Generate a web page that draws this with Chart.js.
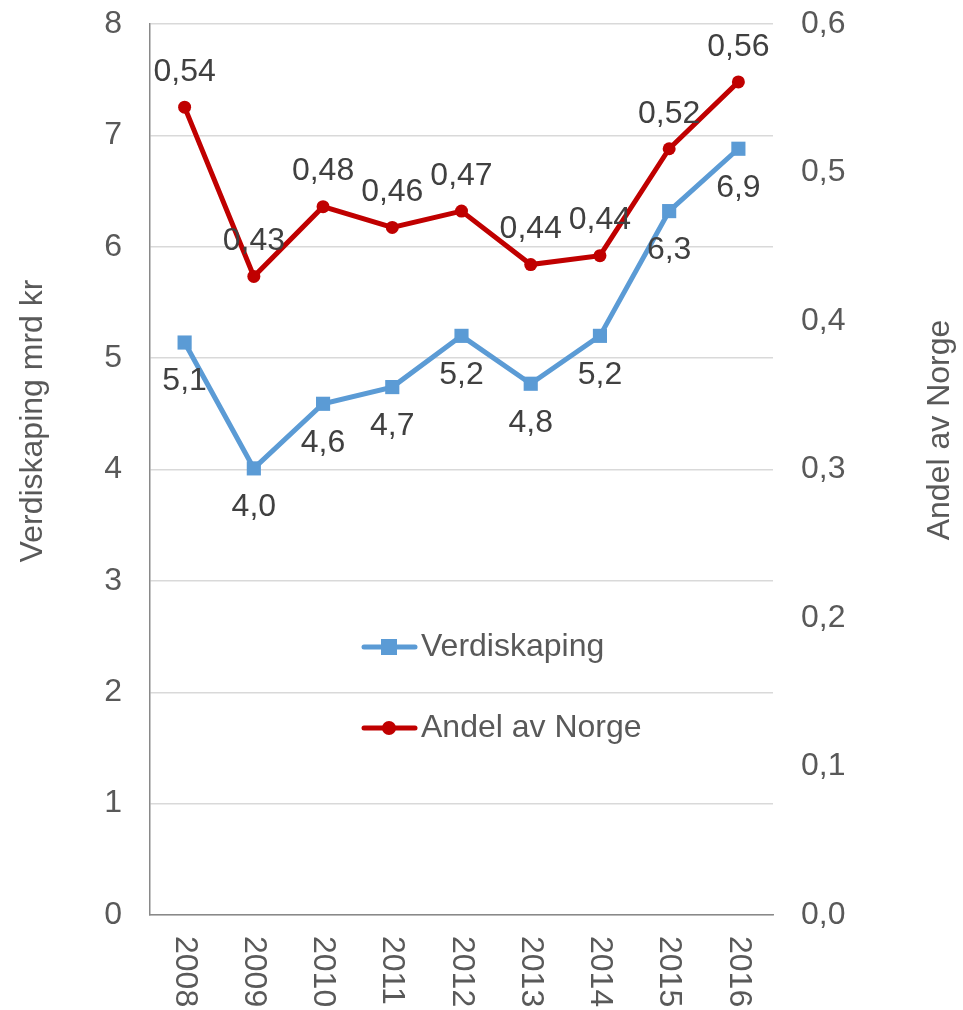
<!DOCTYPE html>
<html>
<head>
<meta charset="utf-8">
<script src="https://cdn.jsdelivr.net/npm/chart.js@4.4.1/dist/chart.umd.min.js"></script>
<style>
  body { margin: 0; background: #fff; }
  #wrap { width: 963px; height: 1010px; }
</style>
</head>
<body>
<div id="wrap"><canvas id="chart" width="963" height="1010"></canvas></div>
<script>
const years = ["2008", "2009", "2010", "2011", "2012", "2013", "2014", "2015", "2016"];
const verdiskaping = [5.14, 4.01, 4.59, 4.74, 5.2, 4.77, 5.2, 6.32, 6.88];
const andelNorge = [0.544, 0.43, 0.477, 0.463, 0.474, 0.438, 0.444, 0.516, 0.561];
const leftTicks = [0, 1, 2, 3, 4, 5, 6, 7, 8];
const rightTicks = [0, 0.1, 0.2, 0.3, 0.4, 0.5, 0.6];

const FONT = "'Liberation Sans', Arial, sans-serif";
const SIZE = 32;
const GREY = "#595959";
const DARK = "#404040";
const BLUE = "#5b9bd5";
const RED = "#c00000";

const comma = (v, d) => v.toFixed(d).replace(".", ",");

// labels, titles and legend drawn by hand
const extras = {
  id: "extras",
  afterDatasetsDraw: (chart) => {
    const { ctx } = chart;
    ctx.save();
    ctx.font = SIZE + "px " + FONT;
    ctx.fillStyle = DARK;
    ctx.textAlign = "center";
    ctx.textBaseline = "middle";
    chart.data.datasets.forEach((ds, i) => {
      const meta = chart.getDatasetMeta(i);
      meta.data.forEach((pt, j) => {
        const dy = i === 0 ? 39 : -35;
        ctx.fillText(comma(ds.data[j], i === 0 ? 1 : 2), pt.x, pt.y + dy);
      });
    });
    ctx.restore();
  },
  afterDraw: (chart) => {
    const { ctx, scales } = chart;
    ctx.save();
    ctx.font = SIZE + "px " + FONT;
    ctx.fillStyle = GREY;
    ctx.textBaseline = "middle";

    // year labels, turned clockwise
    years.forEach((y, i) => {
      ctx.save();
      ctx.translate(scales.x.getPixelForValue(i), chart.chartArea.bottom + 21);
      ctx.rotate(Math.PI / 2);
      ctx.textAlign = "left";
      ctx.fillText(y, 0, 0);
      ctx.restore();
    });

    // axis titles
    ctx.textAlign = "center";
    ctx.save();
    ctx.translate(33, 421);
    ctx.rotate(-Math.PI / 2);
    ctx.fillText("Verdiskaping mrd kr", 0, 0);
    ctx.restore();
    ctx.save();
    ctx.translate(940, 430);
    ctx.rotate(-Math.PI / 2);
    ctx.fillText("Andel av Norge", 0, 0);
    ctx.restore();

    // legend
    const rows = [
      { y: 647, ds: chart.data.datasets[0] },
      { y: 728, ds: chart.data.datasets[1] },
    ];
    rows.forEach((r) => {
      ctx.strokeStyle = r.ds.borderColor;
      ctx.lineWidth = 5;
      ctx.lineCap = "round";
      ctx.beginPath();
      ctx.moveTo(364, r.y);
      ctx.lineTo(415, r.y);
      ctx.stroke();
      ctx.fillStyle = r.ds.borderColor;
      if (r.ds.pointStyle === "rect") {
        ctx.fillRect(381, r.y - 8, 16, 16);
      } else {
        ctx.beginPath();
        ctx.arc(389, r.y, 7, 0, Math.PI * 2);
        ctx.fill();
      }
      ctx.fillStyle = GREY;
      ctx.textAlign = "left";
      ctx.fillText(r.ds.label, 421, r.y);
    });
    ctx.restore();
  },
};

const noPad = (s, w) => {
  s.width = w;
  s.paddingTop = 0;
  s.paddingBottom = 0;
};

new Chart(document.querySelector("#chart"), {
  type: "line",
  data: {
    labels: years,
    datasets: [
      {
        label: "Verdiskaping",
        data: verdiskaping,
        yAxisID: "y",
        borderColor: BLUE,
        backgroundColor: BLUE,
        borderWidth: 5,
        pointStyle: "rect",
        pointRadius: 10,
        pointBorderWidth: 0,
        tension: 0,
      },
      {
        label: "Andel av Norge",
        data: andelNorge,
        yAxisID: "y1",
        borderColor: RED,
        backgroundColor: RED,
        borderWidth: 5,
        pointStyle: "circle",
        pointRadius: 6.5,
        pointBorderWidth: 0,
        tension: 0,
      },
    ],
  },
  options: {
    responsive: false,
    animation: false,
    layout: { padding: { top: 24, left: 0, right: 0, bottom: 0 } },
    plugins: { legend: { display: false }, tooltip: { enabled: false } },
    scales: {
      x: {
        offset: true,
        grid: { display: false, drawTicks: false },
        border: { color: "#898989", width: 1.5 },
        ticks: { display: false },
        afterFit: (s) => { s.height = 95; s.paddingLeft = 0; s.paddingRight = 0; },
      },
      y: {
        position: "left",
        min: 0,
        max: 8,
        afterBuildTicks: (s) => { s.ticks = leftTicks.map((v) => ({ value: v })); },
        ticks: {
          padding: 28,
          color: GREY,
          font: { family: FONT, size: SIZE },
        },
        grid: { color: "#d9d9d9", lineWidth: 1.5, drawTicks: false },
        border: { color: "#898989", width: 1.5 },
        afterFit: (s) => noPad(s, 150),
      },
      y1: {
        position: "right",
        min: 0,
        max: 0.6,
        afterBuildTicks: (s) => { s.ticks = rightTicks.map((v) => ({ value: v })); },
        ticks: {
          padding: 28,
          color: GREY,
          font: { family: FONT, size: SIZE },
          callback: (v) => comma(v, 1),
        },
        grid: { display: false, drawTicks: false },
        border: { display: false },
        afterFit: (s) => noPad(s, 190),
      },
    },
  },
  plugins: [extras],
});
</script>
</body>
</html>
